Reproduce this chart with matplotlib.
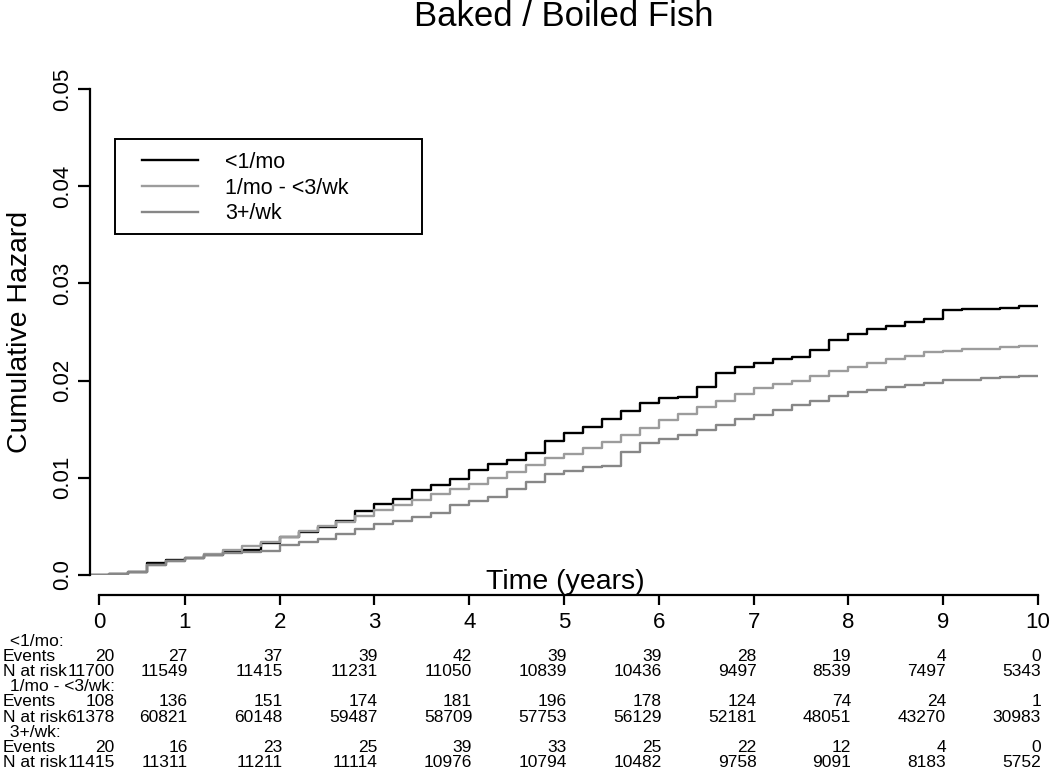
import matplotlib
matplotlib.use("Agg")
import matplotlib.pyplot as plt
import matplotlib.transforms as mtransforms
from matplotlib.patches import Rectangle

plt.rcParams['font.family'] = ['Liberation Sans', 'DejaVu Sans']

# cumulative hazard, every 0.2 years
times = [i / 5 for i in range(51)]
haz_low = [0.0000, 0.0001, 0.0003, 0.0012, 0.0015, 0.0018, 0.0021, 0.0024, 0.0026, 0.0033,
           0.0039, 0.0044, 0.0049, 0.0056, 0.0066, 0.0073, 0.0078, 0.0087, 0.0093, 0.0099,
           0.0108, 0.0114, 0.0118, 0.0126, 0.0138, 0.0146, 0.0152, 0.0161, 0.0169, 0.0177,
           0.0182, 0.0183, 0.0193, 0.0208, 0.0214, 0.0218, 0.0222, 0.0224, 0.0231, 0.0242,
           0.0248, 0.0253, 0.0256, 0.0260, 0.0263, 0.0273, 0.0274, 0.0274, 0.0275, 0.0277,
           0.0277]
haz_mid = [0.0000, 0.0001, 0.0003, 0.0010, 0.0014, 0.0018, 0.0022, 0.0026, 0.0030, 0.0034,
           0.0039, 0.0045, 0.0050, 0.0055, 0.0061, 0.0067, 0.0072, 0.0077, 0.0083, 0.0088,
           0.0094, 0.0100, 0.0106, 0.0113, 0.0120, 0.0124, 0.0131, 0.0137, 0.0144, 0.0151,
           0.0159, 0.0166, 0.0173, 0.0179, 0.0186, 0.0192, 0.0196, 0.0200, 0.0205, 0.0210,
           0.0214, 0.0218, 0.0222, 0.0225, 0.0229, 0.0230, 0.0232, 0.0233, 0.0235, 0.0236,
           0.0236]
haz_high = [0.0000, 0.0001, 0.0003, 0.0010, 0.0014, 0.0018, 0.0021, 0.0023, 0.0024, 0.0025,
            0.0031, 0.0034, 0.0037, 0.0042, 0.0047, 0.0052, 0.0056, 0.0060, 0.0064, 0.0072,
            0.0076, 0.0080, 0.0088, 0.0096, 0.0104, 0.0107, 0.0111, 0.0112, 0.0127, 0.0136,
            0.0140, 0.0144, 0.0149, 0.0154, 0.0160, 0.0165, 0.0170, 0.0175, 0.0179, 0.0184,
            0.0188, 0.0190, 0.0193, 0.0195, 0.0198, 0.0201, 0.0201, 0.0203, 0.0204, 0.0205,
            0.0205]

groups = ['<1/mo', '1/mo - <3/wk', '3+/wk']
colors = ['black', '#9c9c9c', '#878787']

years = list(range(11))
events_low = [20, 27, 37, 39, 42, 39, 39, 28, 19, 4, 0]
risk_low = [11700, 11549, 11415, 11231, 11050, 10839, 10436, 9497, 8539, 7497, 5343]
events_mid = [108, 136, 151, 174, 181, 196, 178, 124, 74, 24, 1]
risk_mid = [61378, 60821, 60148, 59487, 58709, 57753, 56129, 52181, 48051, 43270, 30983]
events_high = [20, 16, 23, 25, 39, 33, 25, 22, 12, 4, 0]
risk_high = [11415, 11311, 11211, 11114, 10976, 10794, 10482, 9758, 9091, 8183, 5752]

W, H = 1050, 772
fig = plt.figure(figsize=(W / 100, H / 100), dpi=100)


def fy(py):
    return (H - py) / H


ax = fig.add_axes([90 / W, fy(575), 948 / W, 486 / H])
for t, (name, haz) in enumerate(zip(groups, [haz_low, haz_mid, haz_high])):
    ax.step(times, haz, where='post', color=colors[t], lw=1.7, label=name)
ax.set_xlim(0, 10)
ax.set_ylim(0, 0.05)
for s in ['top', 'right', 'bottom']:
    ax.spines[s].set_visible(False)
ax.spines['left'].set_linewidth(1.6)
ax.set_xticks([])
ax.set_yticks([0, 0.01, 0.02, 0.03, 0.04, 0.05])
ax.set_yticklabels(['0.0', '0.01', '0.02', '0.03', '0.04', '0.05'],
                   rotation=90, va='center', fontsize=16)
ax.tick_params(axis='y', length=8.5, width=1.6, pad=4)
ax.set_ylabel('Cumulative Hazard', fontsize=20.5)
ax.yaxis.set_label_coords(-0.06, 0.5)

# legend: R style fixed box
fig.patches.append(Rectangle((115 / W, fy(234)), 307 / W, 95 / H, transform=fig.transFigure,
                             fill=False, edgecolor='black', lw=1.4))
ax.legend(loc='upper left', bbox_to_anchor=(142 / W, fy(152)), bbox_transform=fig.transFigure,
          frameon=False, fontsize=15.5, handlelength=2.6, handletextpad=1.25,
          labelspacing=0.22, borderpad=0, borderaxespad=0)

fig.text(564 / W, fy(17), 'Baked / Boiled Fish', ha='center', va='center', fontsize=25)
fig.text(565 / W, fy(582), 'Time (years)', ha='center', va='center', fontsize=20.5)

# separate time axis below the curves
axt = fig.add_axes([90 / W, fy(595), 948 / W, 0.001])
axt.set_xlim(0, 10)
axt.set_ylim(0, 1)
for s in ['top', 'right', 'left']:
    axt.spines[s].set_visible(False)
axt.spines['bottom'].set_bounds(0.1, 10)
axt.spines['bottom'].set_linewidth(1.6)
axt.set_yticks([])
axt.set_xticks([0.1] + years[1:])
axt.set_xticklabels([str(y) for y in years], fontsize=16)
axt.tick_params(axis='x', length=7, width=1.6, pad=5)

# numbers table
tr = mtransforms.blended_transform_factory(ax.transData, fig.transFigure)
shift = mtransforms.ScaledTranslation(3 / 100, 0, fig.dpi_scale_trans)
row_y = [641 + 15.2 * i for i in range(9)]
tables = [(groups[0], events_low, risk_low),
          (groups[1], events_mid, risk_mid),
          (groups[2], events_high, risk_high)]
fs = 12.5
for g, (name, ev, rk) in enumerate(tables):
    y0, y1, y2 = row_y[3 * g: 3 * g + 3]
    fig.text(5 / W, fy(y0), ' ' + name + ':', va='center', fontsize=fs)
    fig.text(3 / W, fy(y1), 'Events', va='center', fontsize=fs)
    fig.text(3 / W, fy(y2), 'N at risk', va='center', fontsize=fs)
    for k, yr in enumerate(years):
        xx = yr + (0.23 if yr == 0 else 0)
        fig.text(xx, fy(y1), str(ev[k]), ha='right', va='center', fontsize=fs,
                 transform=tr + shift)
        fig.text(xx, fy(y2), str(rk[k]), ha='right', va='center', fontsize=fs,
                 transform=tr + shift)

fig.savefig('out.png', dpi=100)
